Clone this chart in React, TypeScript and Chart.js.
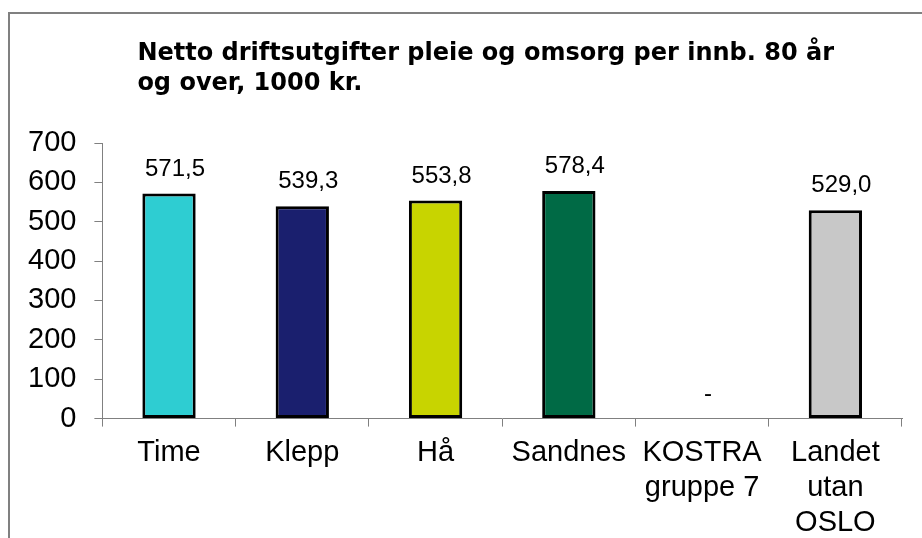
import React, { useEffect, useRef } from "react";
import { Chart, registerables } from "chart.js";

Chart.register(...registerables);

const titleLines = ["Netto driftsutgifter pleie og omsorg per innb. 80 år", "og over, 1000 kr."];
const categories: (string | string[])[] = ["Time", "Klepp", "Hå", "Sandnes", ["KOSTRA", "gruppe 7"], ["Landet", "utan", "OSLO"]];
const values: (number | null)[] = [571.5, 539.3, 553.8, 578.4, null, 529.0];
const barColors = ["#2ECDD2", "#1A1F6E", "#C8D400", "#006A45", "#C8C8C8", "#C8C8C8"];
const yMin = 0;
const yMax = 700;
const yStep = 100;

const fmt = (v: number | null) => (v === null ? "-" : v.toFixed(1).replace(".", ","));

const titlePlugin = {
  id: "leftTitle",
  afterDraw(chart: any) {
    const ctx = chart.ctx;
    const area = chart.chartArea;
    ctx.save();
    ctx.fillStyle = "#000";
    ctx.font = "bold 24px 'DejaVu Sans'";
    ctx.textAlign = "left";
    ctx.textBaseline = "alphabetic";
    titleLines.forEach((line, i) => {
      ctx.fillText(line, area.left + 35, 46 + i * 30);
    });
    ctx.restore();
  },
};

const valueLabelPlugin = {
  id: "valueLabels",
  afterDatasetsDraw(chart: any) {
    const ctx = chart.ctx;
    const meta = chart.getDatasetMeta(0);
    const xs = chart.scales.x;
    const ys = chart.scales.y;
    ctx.save();
    ctx.fillStyle = "#000";
    ctx.font = "24px 'Liberation Sans', Arial, sans-serif";
    ctx.textAlign = "center";
    ctx.textBaseline = "alphabetic";
    values.forEach((v, i) => {
      const x = xs.getPixelForValue(i) + 6;
      const y = v === null ? ys.getPixelForValue(0) : meta.data[i].y;
      ctx.fillText(fmt(v), x, y - 18);
    });
    ctx.restore();
  },
};

export default function App() {
  const ref = useRef<HTMLCanvasElement | null>(null);

  useEffect(() => {
    if (!ref.current) return;
    const chart = new Chart(ref.current, {
      type: "bar",
      data: {
        labels: categories,
        datasets: [
          {
            data: values,
            backgroundColor: barColors,
            borderColor: "#000",
            borderWidth: 3,
            borderSkipped: false,
            barPercentage: 0.4,
            categoryPercentage: 1,
          },
        ],
      },
      options: {
        animation: false,
        responsive: false,
        layout: { padding: { left: 0, top: 129, right: 20, bottom: 5 } },
        plugins: {
          legend: { display: false },
          title: { display: false },
          tooltip: { enabled: false },
        },
        scales: {
          x: {
            grid: { offset: true, drawOnChartArea: false, drawTicks: true, tickLength: 8, color: "#808080" },
            border: { display: true, color: "#808080", width: 1 },
            ticks: {
              color: "#000",
              padding: 9,
              maxRotation: 0,
              autoSkip: false,
              font: { family: "'Liberation Sans', Arial, sans-serif", size: 29, lineHeight: 1.2 },
            },
          },
          y: {
            min: yMin,
            max: yMax,
            grid: { drawOnChartArea: false, drawTicks: true, tickLength: 8, color: "#808080" },
            border: { display: true, color: "#808080", width: 1 },
            ticks: {
              stepSize: yStep,
              color: "#000",
              padding: 18,
              font: { family: "'Liberation Sans', Arial, sans-serif", size: 29 },
            },
          },
        },
      },
      plugins: [titlePlugin, valueLabelPlugin],
    });
    return () => chart.destroy();
  }, []);

  return (
    <div style={{ position: "fixed", left: 0, top: 0, width: 922, height: 538, overflow: "hidden", background: "#fff" }}>
      <div
        style={{
          position: "absolute",
          left: 8,
          top: 12,
          width: 1000,
          height: 700,
          borderLeft: "2px solid #808080",
          borderTop: "2px solid #808080",
        }}
      >
        <canvas ref={ref} width={912} height={540} style={{ position: "absolute", left: 0, top: 0 }} />
      </div>
    </div>
  );
}
